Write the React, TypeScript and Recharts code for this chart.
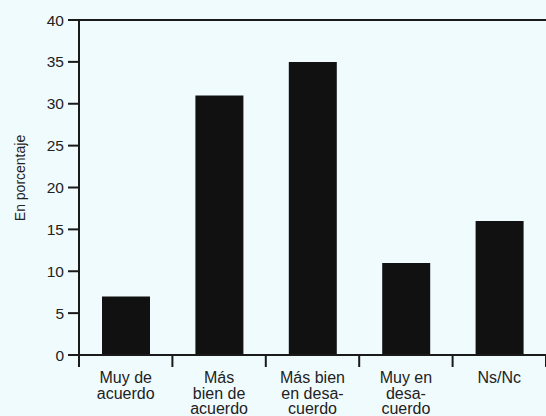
import React from 'react';
import { BarChart, Bar, XAxis, YAxis, ReferenceLine, Label } from 'recharts';

const categories = ['Muy de acuerdo', 'Más bien de acuerdo', 'Más bien en desacuerdo', 'Muy en desacuerdo', 'Ns/Nc'];
const values = [7, 31, 35, 11, 16];
const tickLabels = [
  ['Muy de', 'acuerdo'],
  ['Más', 'bien de', 'acuerdo'],
  ['Más bien', 'en desa-', 'cuerdo'],
  ['Muy en', 'desa-', 'cuerdo'],
  ['Ns/Nc'],
];
const yTicks = [0, 5, 10, 15, 20, 25, 30, 35, 40];

const data = categories.map((name, i) => ({ name, value: values[i] }));

const FONT = '"Liberation Sans", Arial, Helvetica, sans-serif';
const INK = '#1a1a1a';

function CategoryTick(props: any) {
  const { x, y, payload, index } = props;
  const half = payload && payload.offset ? payload.offset : 46.7;
  const lines = tickLabels[index] || [String(payload.value)];
  return (
    <g>
      <line x1={x - half} x2={x - half} y1={y} y2={y + 12} stroke={INK} strokeWidth={2} />
      {index === categories.length - 1 && (
        <line x1={x + half} x2={x + half} y1={y} y2={y + 12} stroke={INK} strokeWidth={2} />
      )}
      <text x={x} y={y + 28} textAnchor="middle" fontSize={16} fill="#222" fontFamily={FONT}>
        {lines.map((l, i) => (
          <tspan key={i} x={x} dy={i === 0 ? 0 : 15.5}>
            {l}
          </tspan>
        ))}
      </text>
    </g>
  );
}

export default function App() {
  return (
    <div
      style={{
        position: 'absolute',
        left: 0,
        top: 0,
        width: 546,
        height: 416,
        background: '#f0fbfe',
        overflow: 'hidden',
      }}
    >
      <BarChart width={546} height={416} data={data} margin={{ top: 20, right: 0, left: 0, bottom: 0 }}>
        <XAxis
          dataKey="name"
          height={61}
          tickSize={0}
          tickMargin={0}
          tickLine={false}
          axisLine={{ stroke: INK, strokeWidth: 2 }}
          tick={<CategoryTick />}
          interval={0}
        />
        <YAxis
          width={79}
          domain={[0, 40]}
          ticks={yTicks}
          tickSize={11}
          tickMargin={4}
          interval={0}
          axisLine={{ stroke: INK, strokeWidth: 2 }}
          tickLine={{ stroke: INK, strokeWidth: 2 }}
          tick={{ fontSize: 15.5, fill: '#222', fontFamily: FONT }}
        >
          <Label
            content={() => (
              <text
                x={25}
                y={178}
                transform="rotate(-90 25 178)"
                textAnchor="middle"
                fontSize={14}
                fill="#222"
                fontFamily={FONT}
              >
                En porcentaje
              </text>
            )}
          />
        </YAxis>
        <ReferenceLine y={40} stroke={INK} strokeWidth={2} />
        <Bar dataKey="value" fill="#111" barSize={48} isAnimationActive={false} />
      </BarChart>
    </div>
  );
}
